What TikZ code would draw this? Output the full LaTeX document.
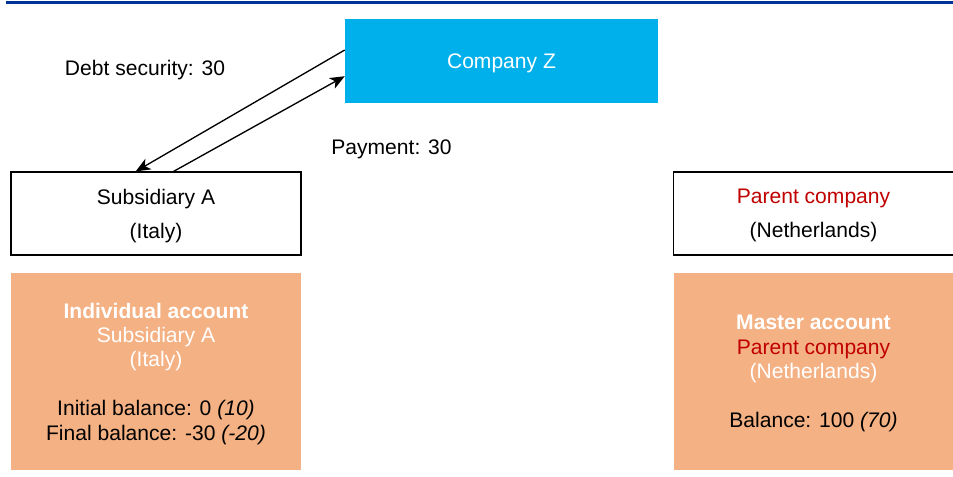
\documentclass[tikz,border=0pt]{standalone}
\usepackage{fontspec}
\setmainfont{Liberation Sans}
\usetikzlibrary{calc,arrows.meta}
\definecolor{zcyan}{HTML}{00B0EB}
\definecolor{acctorange}{HTML}{F4B183}
\definecolor{parentred}{HTML}{C00000}
\definecolor{rulebl}{HTML}{003399}
\tikzset{
  entity/.style={draw, line width=0.8pt, rectangle, align=center, inner sep=0pt,
    text depth=0pt, font=\fontsize{15.8}{25.5}\selectfont},
  account/.style={fill=acctorange, rectangle, align=center, inner sep=0pt,
    text depth=0pt, font=\fontsize{15.8}{18.3}\selectfont},
  flow/.style={-{Stealth[length=11pt,width=9pt,inset=3pt]}, line width=1pt},
  flowlabel/.style={font=\fontsize{15.8}{18}\selectfont, inner sep=0pt}
}
\begin{document}
\begin{tikzpicture}[x=0.75pt, y=-0.75pt]
  \useasboundingbox (0,0) rectangle (953,477);
  \draw [rulebl, line width=1.6pt] (6,2.5) to (953,2.5);
  \node [fill=zcyan, minimum width=313*0.75pt, minimum height=84*0.75pt, text depth=0pt,
    text=white, font=\fontsize{15.8}{18}\selectfont] (compZ) at (501.5,61) {Company Z};
  \node [entity, minimum width=290*0.75pt, minimum height=83*0.75pt] (subA) at (156,213.5)
    {Subsidiary A\\(Italy)};
  \node [entity, minimum width=280*0.75pt, minimum height=83*0.75pt] (parent) at (813.5,213.5)
    {\textcolor{parentred}{Parent company}\\(Netherlands)};
  \node [account, minimum width=290*0.75pt, minimum height=197*0.75pt] (acctA) at (156,371.5)
    {\textcolor{white}{\textbf{Individual account}}\\\textcolor{white}{Subsidiary A}\\
     \textcolor{white}{(Italy)}\\[18.3pt]Initial balance: 0 \textit{(10)}\\
     Final balance: -30 \textit{(-20)}};
  \node [account, minimum width=280*0.75pt, minimum height=197*0.75pt] (acctP) at (813.5,371.5)
    {\textcolor{white}{\textbf{Master account}}\\\textcolor{parentred}{Parent company}\\
     \textcolor{white}{(Netherlands)}\\[18.3pt]Balance: 100 \textit{(70)}};
  % debt security goes down, payment goes up
  \draw [flow] ($(compZ.north west)!0.37!(compZ.south west)$) to
    ($(subA.north west)!0.43!(subA.north east)$);
  \draw [flow] ($(subA.north west)!0.56!(subA.north east)$) to
    ($(compZ.north west)!0.68!(compZ.south west)$);
  \node [flowlabel] (debtlbl) at (145,70) {Debt security: 30};
  \node [flowlabel] (paylbl) at (391.5,149) {Payment: 30};
\end{tikzpicture}
\end{document}
